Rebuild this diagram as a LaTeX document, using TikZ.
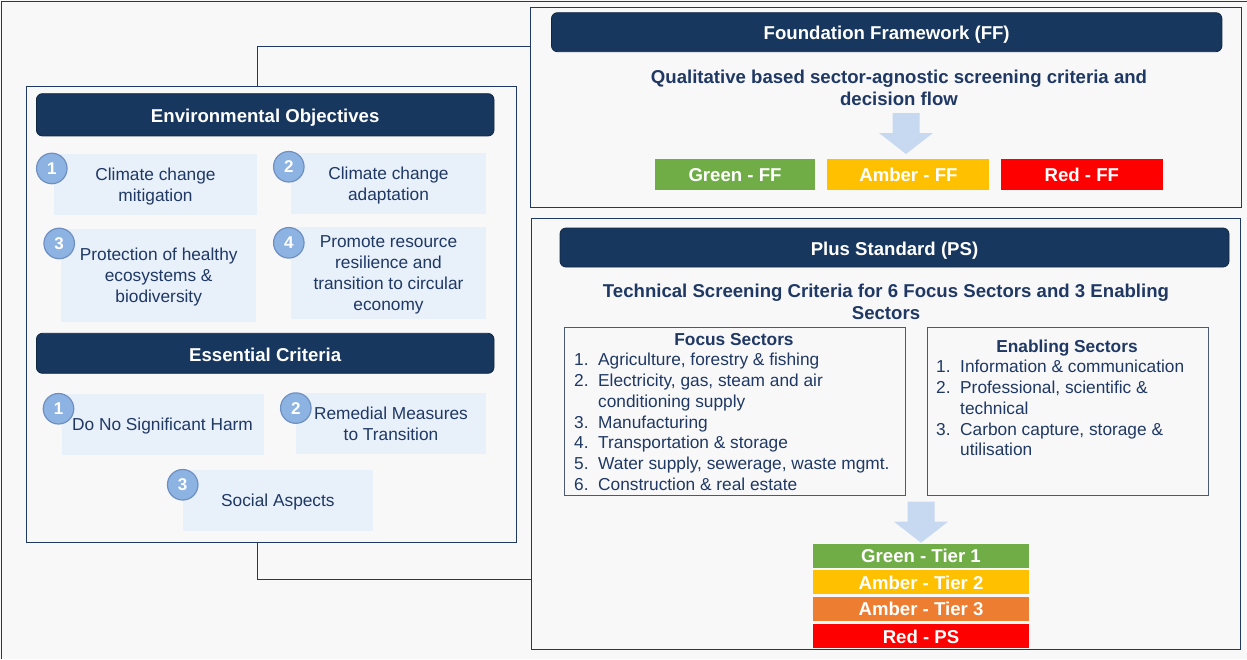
\documentclass[tikz,border=0pt]{standalone}
\usepackage{fontspec}
\setmainfont{Liberation Sans}
\usepackage{xcolor}
\usetikzlibrary{positioning}
\definecolor{navyline}{HTML}{203864}
\definecolor{headfill}{HTML}{17375E}
\definecolor{textnavy}{HTML}{1F3864}
\definecolor{itemfill}{HTML}{E8F0FA}
\definecolor{badgefill}{HTML}{8DB3E2}
\definecolor{badgeline}{HTML}{6F8FC2}
\definecolor{arrowfill}{HTML}{C6D9F1}
\definecolor{pagebg}{HTML}{F8F8F8}
\definecolor{secline}{HTML}{4A5A74}
\definecolor{rategreen}{HTML}{70AD47}
\definecolor{rateamber}{HTML}{FFC000}
\definecolor{rateorange}{HTML}{ED7D31}
\definecolor{ratered}{HTML}{FF0000}
\newcommand{\bodyfont}{\fontsize{17.3}{21}\selectfont}
\newcommand{\headfont}{\fontsize{18.6}{22}\selectfont\bfseries}
\newcommand{\listno}[1]{\makebox[24pt][l]{#1}}
\newcommand{\blockarrow}[1]{\fill[arrowfill] (#1) ++(-13.5,0) -- ++(27,0) -- ++(0,20) -- ++(13.5,0) -- ++(-27,21) -- ++(-27,-21) -- ++(13.5,0) -- cycle;}

\begin{document}
\begin{tikzpicture}[x=1pt, y=-1pt,
  panel/.style={draw=navyline, line width=1pt},
  header/.style={rectangle, rounded corners=6pt, fill=headfill, draw=headfill!70!black, line width=0.8pt, text=white, text height=15.5pt, text depth=0pt, font=\headfont},
  itembox/.style={fill=itemfill, text=textnavy, align=center, inner sep=2pt, text depth=-1pt, font=\bodyfont},
  badge/.style={circle, fill=badgefill, draw=badgeline, line width=1.2pt, minimum size=30.5pt, inner sep=0pt, text=white, font=\fontsize{17}{20}\selectfont\bfseries},
  subtitle/.style={text=textnavy, align=center, font=\headfont},
  secbox/.style={draw=secline, line width=1pt},
  sectitle/.style={text=textnavy, text height=12.4pt, text depth=0pt, font=\fontsize{17.3}{21}\selectfont\bfseries},
  seclist/.style={text=textnavy, align=left, inner sep=0pt, anchor=north west, font=\fontsize{17.3}{20.8}\selectfont},
  ratebox/.style={text=white, inner sep=0pt, text height=14pt, text depth=0pt, font=\headfont},
  link/.style={draw=navyline, line width=1pt}]
% page
\fill[pagebg] (0,0) rectangle (1247,659);
\useasboundingbox (0,0) rectangle (1247,659);
\draw[link] (1,659) -- (1,1) -- (1247,1);

% Environmental objectives
\node[panel, minimum width=490pt, minimum height=456pt] (envpanel) at (271.8,314.2) {};
\node[header, minimum width=457.6pt, minimum height=42.3pt] (envhead) at (265.2,114.8) {Environmental Objectives};
\node[itembox, minimum width=203pt, minimum height=60.7pt] (obj1) at (155.5,184.3) {Climate change\\mitigation};
\node[itembox, minimum width=195pt, minimum height=60.7pt] (obj2) at (388.5,183.3) {Climate change\\adaptation};
\node[itembox, minimum width=194.6pt, minimum height=92.7pt] (obj3) at (158.7,275.3) {Protection of healthy\\ecosystems \&\\biodiversity};
\node[itembox, minimum width=195pt, minimum height=92pt, text depth=-3pt] (obj4) at (388.5,273) {Promote resource\\resilience and\\transition to circular\\economy};
\node[badge] (obj1num) at ([xshift=-2pt,yshift=-14.7pt]obj1.north west) {1};
\node[badge] (obj2num) at ([xshift=-2pt,yshift=-14pt]obj2.north west) {2};
\node[badge] (obj3num) at ([xshift=-2pt,yshift=-14.7pt]obj3.north west) {3};
\node[badge] (obj4num) at ([xshift=-2pt,yshift=-16pt]obj4.north west) {4};

% Essential criteria
\node[header, minimum width=457.6pt, minimum height=40pt] (esshead) at (265.2,353.3) {Essential Criteria};
\node[itembox, minimum width=202pt, minimum height=60.7pt] (ess1) at (162.5,424.3) {Do No Significant Harm};
\node[itembox, minimum width=190pt, minimum height=61pt] (ess2) at (391,423.5) {Remedial Measures\\to Transition};
\node[itembox, minimum width=190pt, minimum height=60.7pt, text depth=-3pt] (ess3) at (277.9,500.3) {Social Aspects};
\node[badge] (ess1num) at ([xshift=-2.8pt,yshift=-15pt]ess1.north west) {1};
\node[badge] (ess2num) at ([yshift=-15.3pt]ess2.north west) {2};
\node[badge] (ess3num) at ([yshift=-15pt]ess3.north west) {3};

% Foundation framework
\node[panel, minimum width=711pt, minimum height=200pt] (ffpanel) at (886,107.5) {};
\node[header, minimum width=670.5pt, minimum height=39pt] (ffhead) at (886.7,32.2) {Foundation Framework (FF)};
\node[subtitle] (fftitle) at (899,88) {Qualitative based sector-agnostic screening criteria and\\decision flow};
\blockarrow{906,113}
\node[ratebox, fill=rategreen, minimum width=160pt, minimum height=31pt] (greenff) at (735,174.5) {Green - FF};
\node[ratebox, fill=rateamber, minimum width=162pt, minimum height=31pt, right=12pt of greenff] (amberff) {Amber - FF};
\node[ratebox, fill=ratered, minimum width=162pt, minimum height=31pt, right=11pt of amberff] (redff) {Red - FF};

% Plus standard
\node[panel, minimum width=708.5pt, minimum height=431pt] (pspanel) at (885.8,433.5) {};
\node[header, minimum width=669pt, minimum height=39pt] (pshead) at (894.5,247.5) {Plus Standard (PS)};
\node[subtitle] (pstitle) at (886,302) {Technical Screening Criteria for 6 Focus Sectors and 3 Enabling\\Sectors};
\node[secbox, minimum width=340.5pt, minimum height=168pt] (focusbox) at (734.8,411) {};
\node[secbox, minimum width=281pt, minimum height=168pt] (enablebox) at (1067.5,411) {};
\node[sectitle] (focustitle) at (734,339) {Focus Sectors};
\node[sectitle] (enabletitle) at (1067,346) {Enabling Sectors};
\node[seclist] (focuslist) at (574,352.9) {\listno{1.}Agriculture, forestry \& fishing\\
  \listno{2.}Electricity, gas, steam and air\\
  \hspace*{24pt}conditioning supply\\
  \listno{3.}Manufacturing\\
  \listno{4.}Transportation \& storage\\
  \listno{5.}Water supply, sewerage, waste mgmt.\\
  \listno{6.}Construction \& real estate};
\node[seclist] (enablelist) at (936,359.9) {\listno{1.}Information \& communication\\
  \listno{2.}Professional, scientific \&\\
  \hspace*{24pt}technical\\
  \listno{3.}Carbon capture, storage \&\\
  \hspace*{24pt}utilisation};
\blockarrow{921,501.7}
\node[ratebox, fill=rategreen, minimum width=216pt, minimum height=23.7pt] (tier1) at (921,555.8) {Green - Tier 1};
\node[ratebox, fill=rateamber, minimum width=216pt, minimum height=23.7pt, below=2.4pt of tier1] (tier2) {Amber - Tier 2};
\node[ratebox, fill=rateorange, minimum width=216pt, minimum height=23.7pt, below=2.4pt of tier2] (tier3) {Amber - Tier 3};
\node[ratebox, fill=ratered, minimum width=216pt, minimum height=23.7pt, below=3.2pt of tier3] (redps) {Red - PS};

% links
\draw[link] ([xshift=-14pt]envpanel.north) |- ([yshift=-39pt]ffpanel.north west);
\draw[link] ([xshift=-14pt]envpanel.south) |- ([yshift=70pt]pspanel.south west);
\end{tikzpicture}
\end{document}
